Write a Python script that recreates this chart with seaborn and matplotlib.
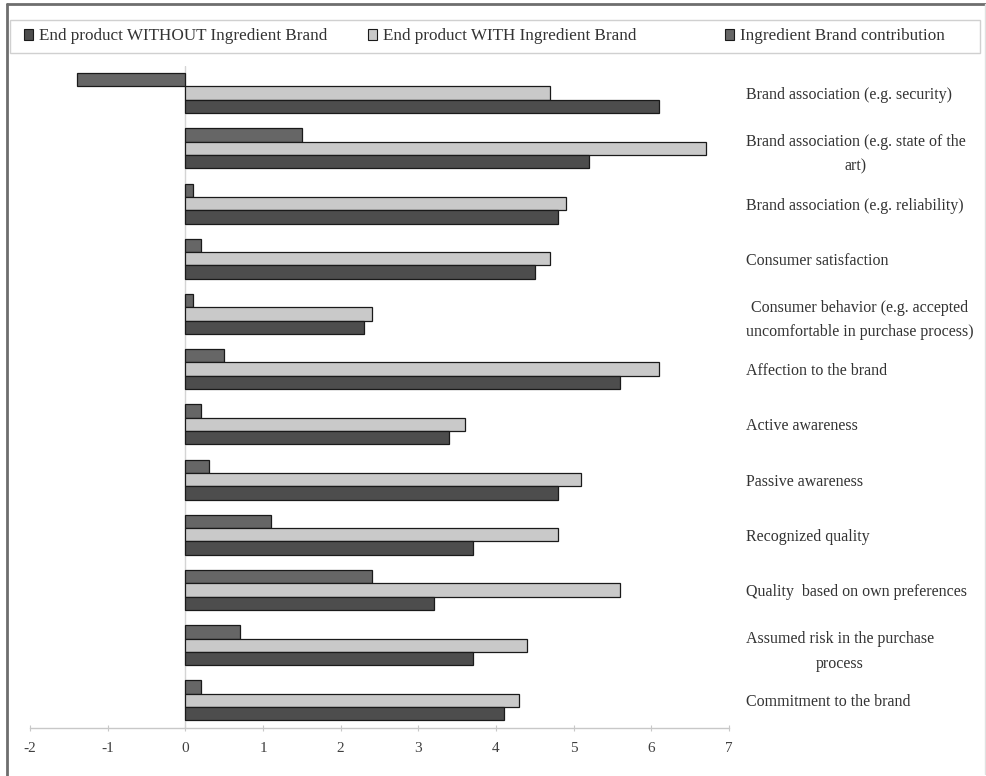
import pandas as pd
import seaborn as sns
import matplotlib.pyplot as plt
from matplotlib.patches import Patch, Rectangle
from matplotlib.lines import Line2D

# categories, top to bottom
items = [
    "Brand association (e.g. security)",
    "Brand association (e.g. state of the\nart)",
    "Brand association (e.g. reliability)",
    "Consumer satisfaction",
    "Consumer behavior (e.g. accepted\nuncomfortable in purchase process)",
    "Affection to the brand",
    "Active awareness",
    "Passive awareness",
    "Recognized quality",
    "Quality  based on own preferences",
    "Assumed risk in the purchase\nprocess",
    "Commitment to the brand",
]

without_brand = [6.1, 5.2, 4.8, 4.5, 2.3, 5.6, 3.4, 4.8, 3.7, 3.2, 3.7, 4.1]
with_brand = [4.7, 6.7, 4.9, 4.7, 2.4, 6.1, 3.6, 5.1, 4.8, 5.6, 4.4, 4.3]
contribution = [-1.4, 1.5, 0.1, 0.2, 0.1, 0.5, 0.2, 0.3, 1.1, 2.4, 0.7, 0.2]

s_without = "End product WITHOUT Ingredient Brand"
s_with = "End product WITH Ingredient Brand"
s_contrib = "Ingredient Brand contribution"

colors = {s_without: "#4d4d4d", s_with: "#c9c9c9", s_contrib: "#666666"}

df = pd.DataFrame({
    "item": items * 3,
    "series": [s_without] * 12 + [s_with] * 12 + [s_contrib] * 12,
    "value": without_brand + with_brand + contribution,
})

sns.set_theme(style="white")
plt.rcParams["font.family"] = ["Liberation Serif", "DejaVu Serif"]
plt.rcParams["axes.unicode_minus"] = False

W, H = 987, 776
fig = plt.figure(figsize=(W / 100, H / 100), dpi=100)
ax = fig.add_axes([30 / W, 1 - 728 / H, 699 / W, (728 - 65.5) / H])

sns.barplot(data=df, y="item", x="value", hue="series",
            hue_order=[s_contrib, s_with, s_without], palette=colors,
            orient="h", width=0.725, edgecolor="#1a1a1a", linewidth=0.9,
            legend=False, ax=ax, zorder=2)

ax.axvline(0, color="#d4d4d4", lw=1.0, zorder=1)
ax.set_xlim(-2, 7)
ax.set_ylim(11.5, -0.5)
ax.set_xticks(range(-2, 8))
ax.set_xlabel("")
ax.set_ylabel("")

for side in ["top", "right", "left"]:
    ax.spines[side].set_visible(False)
ax.spines["bottom"].set_color("#c8c8c8")
ax.spines["bottom"].set_linewidth(1.0)

ax.tick_params(axis="x", direction="inout", length=4, width=0.8, color="#c8c8c8",
               labelsize=11, labelcolor="#404040", pad=8, bottom=True)
ax.yaxis.tick_right()
ax.tick_params(axis="y", length=0, pad=12, labelsize=11.5, labelcolor="#333333")
for lab in ax.get_yticklabels():
    lab.set_multialignment("center")
    lab.set_linespacing(1.7)

# legend box along the top, one entry per column start
fig.add_artist(Rectangle((10 / W, 1 - 53 / H), 970 / W, 33 / H,
                         transform=fig.transFigure, facecolor="none",
                         edgecolor="#d0d0d0", lw=1.0))
leg_starts = [24, 368, 725]
for s, x0 in zip([s_without, s_with, s_contrib], leg_starts):
    h = Patch(facecolor=colors[s], edgecolor="#1a1a1a", linewidth=0.8)
    leg = fig.legend([h], [s], loc="center left",
                     bbox_to_anchor=(x0 / W, 1 - 36.5 / H), frameon=False,
                     fontsize=12.3, handlelength=0.55, handleheight=0.55,
                     handletextpad=0.3, borderpad=0, borderaxespad=0)
    for t in leg.get_texts():
        t.set_color("#333333")

# outer frame of the picture
fig.add_artist(Line2D([7 / W, 7 / W], [0, 1 - 4 / H], color="#6e6e6e", lw=2))
fig.add_artist(Line2D([7 / W, 986 / W], [1 - 4 / H, 1 - 4 / H], color="#6e6e6e", lw=2))
fig.add_artist(Line2D([985 / W, 985 / W], [2 / H, 1 - 4 / H], color="#e0e0e0", lw=1))

fig.savefig("out.png", dpi=100, facecolor="white")
